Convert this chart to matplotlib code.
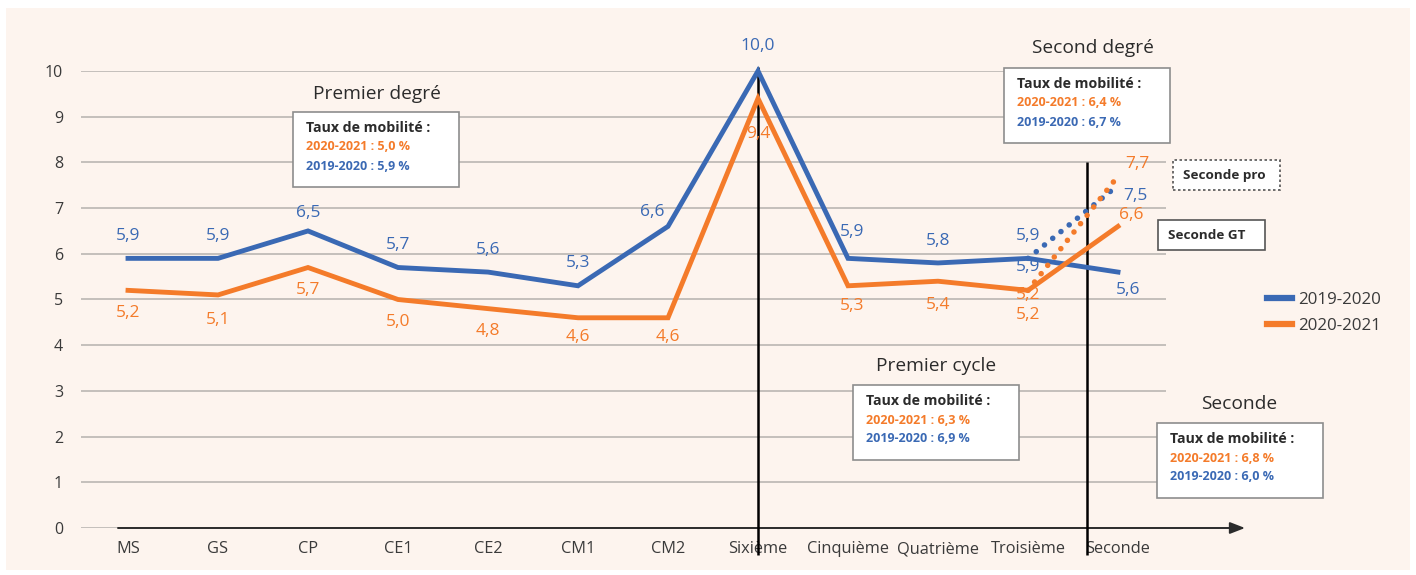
import matplotlib.pyplot as plt
from matplotlib.patches import Rectangle
from matplotlib.lines import Line2D

plt.rcParams['font.family'] = ['Open Sans', 'DejaVu Sans']

categories = ["MS", "GS", "CP", "CE1", "CE2", "CM1", "CM2", "Sixième",
              "Cinquième", "Quatrième", "Troisième", "Seconde"]
rate_2019 = [5.9, 5.9, 6.5, 5.7, 5.6, 5.3, 6.6, 10.0, 5.9, 5.8, 5.9, 5.6]
rate_2020 = [5.2, 5.1, 5.7, 5.0, 4.8, 4.6, 4.6, 9.4, 5.3, 5.4, 5.2, 6.6]

# Seconde pro (dotted)
pro_cats = ["Troisième", "Seconde"]
pro_2019 = [5.9, 7.5]
pro_2020 = [5.2, 7.7]

series_names = ["2019-2020", "2020-2021"]

boxes = [
    ("Premier degré", "5,0 %", "5,9 %"),
    ("Second degré", "6,4 %", "6,7 %"),
    ("Premier cycle", "6,3 %", "6,9 %"),
    ("Seconde", "6,8 %", "6,0 %"),
]

BLUE = "#3a69b4"
ORANGE = "#f47b2a"
DARK = "#2b2b2b"
BG = "#fdf4ee"

W, H = 1416, 575


def fx(x):
    return x / W


def fy(y):
    return 1 - y / H


fig = plt.figure(figsize=(W / 100, H / 100), dpi=100, facecolor="white")
fig.add_artist(Rectangle((fx(6), fy(570)), fx(1404), (562) / H,
                         transform=fig.transFigure, facecolor=BG,
                         edgecolor="none", zorder=0))

ax = fig.add_axes([fx(81), fy(528), (1245 - 81) / W, (528 - 71) / H])
ax.set_facecolor("none")
for s in ax.spines.values():
    s.set_visible(False)

x0 = (81 - 128) / 90
ax.set_xlim(x0, (1245 - 128) / 90)
ax.set_ylim(0, 10)

xs = list(range(len(categories)))

# grid
ax.hlines(range(0, 11), x0, (1166 - 128) / 90, color="#b5b1ae", lw=1.1, zorder=1)
# x axis with arrow
ax.annotate("", xy=((1245 - 128) / 90, 0), xytext=((118 - 128) / 90, 0),
            arrowprops=dict(arrowstyle="-|>,head_length=0.9,head_width=0.35",
                            color=DARK, lw=1.4, shrinkA=0, shrinkB=0),
            annotation_clip=False, zorder=2)

ax.set_yticks(range(0, 11))
ax.set_yticklabels([str(v) for v in range(0, 11)], fontsize=11.5, color="#3a3a3a")
ax.tick_params(axis="y", length=0, pad=13)
ax.set_xticks([])
for x, cat in zip(xs, categories):
    ax.text(x, -0.055, cat, transform=ax.get_xaxis_transform(), ha="center",
            va="baseline", fontsize=11.8, color="#3a3a3a")

# vertical separators
ax.vlines(categories.index("Sixième"), -0.59, 10.09, color="black", lw=1.8,
          zorder=4, clip_on=False)
ax.vlines((1087 - 128) / 90, -0.59, 8.0, color="black", lw=1.8,
          zorder=4, clip_on=False)

ax.plot(xs, rate_2019, color=BLUE, lw=3.5, zorder=5, solid_joinstyle="miter",
        label=series_names[0], clip_on=False)
ax.plot(xs, rate_2020, color=ORANGE, lw=3.5, zorder=5, solid_joinstyle="miter",
        label=series_names[1], clip_on=False)

pro_x = [categories.index(c) for c in pro_cats]
ax.plot(pro_x, pro_2019, color=BLUE, lw=4, ls=(0, (0.01, 1.9)),
        dash_capstyle="round", zorder=5)
ax.plot(pro_x, pro_2020, color=ORANGE, lw=4, ls=(0, (0.01, 1.9)),
        dash_capstyle="round", zorder=5)

# label offsets in pixels (dx, dy)
off_2019 = [(0, 22), (0, 22), (0, 18), (0, 23), (0, 22), (0, 23), (-16, 14),
            (0, 25), (4, 26), (0, 22), (0, 22), (10, -18)]
off_2020 = [(0, -23), (0, -25), (0, -22), (0, -23), (0, -22), (0, -19),
            (0, -19), (0, -36), (4, -20), (0, -24), (0, -5), (13, 11)]
off_pro_2019 = [(0, -9), (17, -11)]
off_pro_2020 = [(0, -25), (19, 12)]


def fmt(v):
    return f"{v:.1f}".replace(".", ",")


def put_labels(xv, yv, offs, color):
    for x, y, (dx, dy) in zip(xv, yv, offs):
        ax.annotate(fmt(y), (x, y), xytext=(dx, dy), textcoords="offset pixels",
                    ha="center", va="center", fontsize=12.5, color=color,
                    zorder=6, annotation_clip=False)


put_labels(xs, rate_2019, off_2019, BLUE)
put_labels(xs, rate_2020, off_2020, ORANGE)
put_labels(pro_x, pro_2019, off_pro_2019, BLUE)
put_labels(pro_x, pro_2020, off_pro_2020, ORANGE)

# info boxes: (title x, title y, box left, box top)
box_pos = [(377, 94, 293, 112), (1093, 48, 1004, 68),
           (936, 366, 853, 385), (1239, 404, 1157, 423)]
for (title, v20, v19), (tx, ty, bx, by) in zip(boxes, box_pos):
    fig.text(fx(tx), fy(ty), title, ha="center", va="center", fontsize=13.8,
             color=DARK, fontweight="medium")
    fig.add_artist(Rectangle((fx(bx), fy(by + 75)), 166 / W, 75 / H,
                             transform=fig.transFigure, facecolor="white",
                             edgecolor="#8d8d8d", lw=1.2, zorder=7))
    fig.text(fx(bx + 13), fy(by + 16), "Taux de mobilité :", fontsize=10.2,
             fontweight="bold", color=DARK, va="center", zorder=8)
    fig.text(fx(bx + 13), fy(by + 35), "2020-2021 : " + v20, fontsize=9,
             fontweight="bold", color=ORANGE, va="center", zorder=8)
    fig.text(fx(bx + 13), fy(by + 54), "2019-2020 : " + v19, fontsize=9,
             fontweight="bold", color=BLUE, va="center", zorder=8)

# Seconde pro / Seconde GT tags
fig.add_artist(Rectangle((fx(1173), fy(190)), 107 / W, 30 / H,
                         transform=fig.transFigure, facecolor="white",
                         edgecolor="#555555", lw=1.2, ls=(0, (1.5, 1.5)), zorder=7))
fig.text(fx(1183), fy(175), "Seconde pro", ha="left", va="center",
         fontsize=9.7, fontweight="bold", color=DARK, zorder=8)
fig.add_artist(Rectangle((fx(1158), fy(250)), 107 / W, 30 / H,
                         transform=fig.transFigure, facecolor="white",
                         edgecolor="#555555", lw=1.2, zorder=7))
fig.text(fx(1168), fy(235), "Seconde GT", ha="left", va="center",
         fontsize=9.7, fontweight="bold", color=DARK, zorder=8)

handles = [Line2D([], [], color=BLUE, lw=4.5), Line2D([], [], color=ORANGE, lw=4.5)]
fig.legend(handles, series_names, loc="center left",
           bbox_to_anchor=(fx(1252), fy(313)), frameon=False, fontsize=12.2,
           handlelength=1.45, handletextpad=0.4, labelspacing=0.6,
           labelcolor="#3a3a3a")

fig.savefig("out.png", dpi=100, facecolor="white")
